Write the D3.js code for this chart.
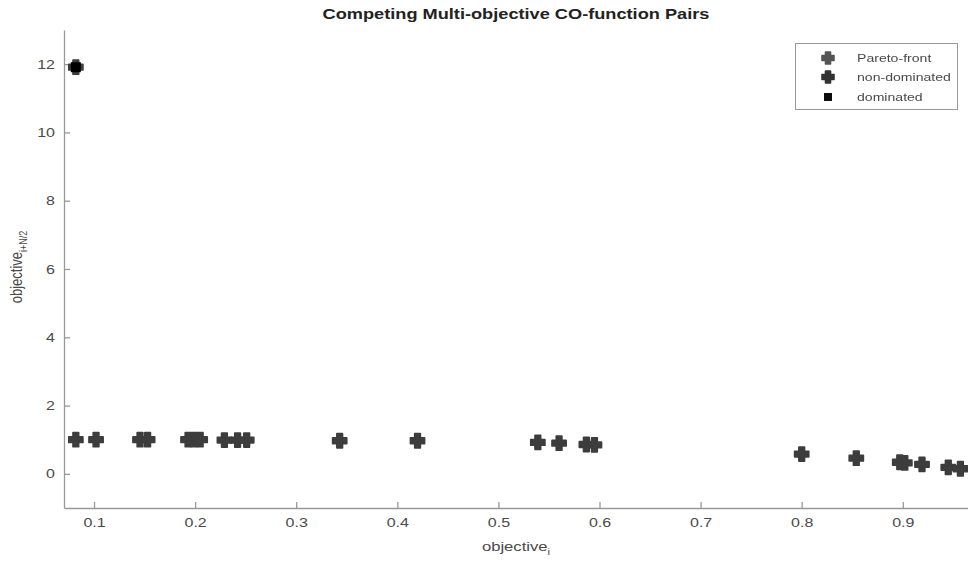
<!DOCTYPE html>
<html>
<head>
<meta charset="utf-8">
<script src="https://cdn.jsdelivr.net/npm/d3@7/dist/d3.min.js"></script>
<style>
  html, body { margin: 0; padding: 0; background: #fff; }
  svg { display: block; font-family: "Liberation Sans", Arial, Helvetica, sans-serif; }
</style>
</head>
<body>
<svg id="chart" width="968" height="562"></svg>
<script>
// objective_i / objective_{i+N/2} pairs
const paretoX = [0.082, 0.082, 0.102, 0.1455, 0.153, 0.193, 0.199, 0.205, 0.229, 0.242, 0.251,
                 0.343, 0.420, 0.539, 0.560, 0.587, 0.595, 0.800, 0.854, 0.897, 0.902, 0.919, 0.945, 0.957];
const paretoY = [11.91, 1.00, 1.00, 1.00, 1.00, 1.00, 1.00, 1.00, 0.99, 0.99, 0.99,
                 0.97, 0.97, 0.92, 0.90, 0.86, 0.85, 0.58, 0.46, 0.34, 0.32, 0.28, 0.19, 0.15];
const dominatedX = [0.082];
const dominatedY = [11.91];

const xTicks = [0.1, 0.2, 0.3, 0.4, 0.5, 0.6, 0.7, 0.8, 0.9];
const yTicks = [0, 2, 4, 6, 8, 10, 12];
const legendLabels = ["Pareto-front", "non-dominated", "dominated"];

const svg = d3.select("#chart");
const plotLeft = 64, plotRight = 968, plotTop = 30, plotBottom = 508;
const wide = 1.28; // horizontal text stretch of the figure

const x = d3.scaleLinear().domain([0.0703, 0.9645]).range([plotLeft, plotRight]);
const y = d3.scaleLinear().domain([-1, 13]).range([plotBottom, plotTop]);

const axisColor = "#999";
const textColor = "#4a4a4a";

// widen a text element horizontally about its own anchor point
function stretch(sel, sx) {
  sel.each(function () {
    const t = d3.select(this);
    const tx = +t.attr("x") || 0, ty = +t.attr("y") || 0;
    t.attr("transform", `translate(${tx},${ty}) scale(${sx},1) translate(${-tx},${-ty})`);
  });
}

// soft edge filter for the markers
const defs = svg.append("defs");
defs.append("filter").attr("id", "soft")
  .attr("x", "-20%").attr("y", "-20%").attr("width", "140%").attr("height", "140%")
  .append("feGaussianBlur").attr("stdDeviation", 0.7);

// axes (inward ticks)
const xAxis = d3.axisBottom(x).tickValues(xTicks).tickFormat(d3.format(".1f"))
  .tickSizeInner(-6).tickSizeOuter(0).tickPadding(10);
const yAxis = d3.axisLeft(y).tickValues(yTicks).tickFormat(d3.format("d"))
  .tickSizeInner(-6).tickSizeOuter(0).tickPadding(9);

const gx = svg.append("g").attr("transform", `translate(0,${plotBottom})`).call(xAxis);
const gy = svg.append("g").attr("transform", `translate(${plotLeft},0)`).call(yAxis);
[gx, gy].forEach(g => {
  g.select(".domain").attr("stroke", axisColor).attr("stroke-width", 1.3);
  g.selectAll(".tick line").attr("stroke", axisColor).attr("stroke-width", 1.3);
  g.selectAll(".tick text").attr("fill", textColor).attr("font-size", 12.5)
    .attr("font-family", "Liberation Sans, Arial, sans-serif")
    .call(stretch, wide);
});

// thick plus marker
function plusPath(w, t) {
  const a = w / 2, b = t / 2;
  return `M${-b},${-a}H${b}V${-b}H${a}V${b}H${b}V${a}H${-b}V${b}H${-a}V${-b}H${-b}Z`;
}

const markColor = "#3c3c3c";
const marks = svg.append("g").attr("filter", "url(#soft)");
marks.selectAll("path.pf")
  .data(paretoX.map((d, i) => [d, paretoY[i]]))
  .join("path")
  .attr("class", "pf")
  .attr("d", plusPath(14, 5.5))
  .attr("transform", d => `translate(${x(d[0])},${y(d[1])})`)
  .attr("fill", markColor)
  .attr("stroke", markColor).attr("stroke-width", 1.8).attr("stroke-linejoin", "round");

marks.selectAll("rect.dom")
  .data(dominatedX.map((d, i) => [d, dominatedY[i]]))
  .join("rect")
  .attr("class", "dom")
  .attr("x", d => x(d[0]) - 5).attr("y", d => y(d[1]) - 5)
  .attr("width", 10).attr("height", 10)
  .attr("fill", "#000");

// title
svg.append("text")
  .attr("x", (plotLeft + plotRight) / 2).attr("y", 19)
  .attr("text-anchor", "middle")
  .attr("font-size", 14).attr("font-weight", "bold").attr("fill", "#222")
  .text("Competing Multi-objective CO-function Pairs")
  .call(stretch, 1.3);

// x label
const xl = svg.append("text")
  .attr("x", (plotLeft + plotRight) / 2).attr("y", 551)
  .attr("text-anchor", "middle")
  .attr("font-size", 13).attr("fill", textColor);
xl.append("tspan").text("objective");
xl.append("tspan").attr("font-size", 9).attr("dy", 4).text("i");
xl.call(stretch, wide);

// y label (the stretch runs across the glyphs, so the rotated label only gets wider letters)
const yl = svg.append("text")
  .attr("transform", `translate(22,${(plotTop + plotBottom) / 2 - 2}) rotate(-90) scale(1,${wide})`)
  .attr("text-anchor", "middle")
  .attr("font-size", 13).attr("fill", textColor);
yl.append("tspan").text("objective");
yl.append("tspan").attr("font-size", 9).attr("dy", 4).text("i+N/2");

// legend
const lg = svg.append("g");
lg.append("rect").attr("x", 795.5).attr("y", 43.5).attr("width", 162).attr("height", 66)
  .attr("fill", "#fff").attr("stroke", "#999").attr("stroke-width", 1);
const ly = [58, 77, 97];
const lgMarks = lg.append("g").attr("filter", "url(#soft)");
lgMarks.append("path").attr("d", plusPath(12, 5))
  .attr("transform", `translate(828,${ly[0]})`).attr("fill", "#555")
  .attr("stroke", "#555").attr("stroke-width", 1.6).attr("stroke-linejoin", "round");
lgMarks.append("path").attr("d", plusPath(12, 5))
  .attr("transform", `translate(828,${ly[1]})`).attr("fill", "#333")
  .attr("stroke", "#333").attr("stroke-width", 1.6).attr("stroke-linejoin", "round");
lgMarks.append("rect").attr("x", 824).attr("y", ly[2] - 4).attr("width", 8).attr("height", 8)
  .attr("fill", "#111");
legendLabels.forEach((t, i) => {
  lg.append("text").attr("x", 857).attr("y", ly[i] + 4)
    .attr("font-size", 11).attr("fill", textColor).text(t)
    .call(stretch, wide);
});
</script>
</body>
</html>
